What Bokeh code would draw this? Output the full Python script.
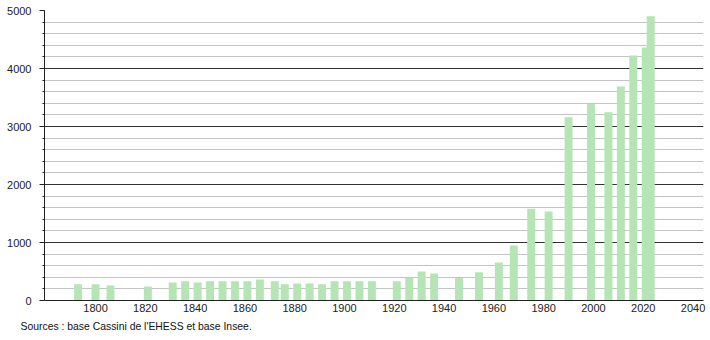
from bokeh.plotting import figure
from bokeh.models import Range1d, FixedTicker, Title, ColumnDataSource
from bokeh.embed import file_html
from bokeh.resources import INLINE

years = [1793, 1800, 1806, 1821, 1831, 1836, 1841, 1846, 1851, 1856, 1861, 1866,
         1872, 1876, 1881, 1886, 1891, 1896, 1901, 1906, 1911, 1921, 1926, 1931,
         1936, 1946, 1954, 1962, 1968, 1975, 1982, 1990, 1999, 2006, 2011, 2016,
         2021, 2023]
population = [280, 280, 260, 240, 310, 330, 310, 330, 330, 330, 330, 360,
              330, 280, 295, 295, 280, 330, 330, 330, 330, 330, 390, 500,
              465, 390, 485, 655, 950, 1580, 1535, 3160, 3390, 3245, 3690, 4225,
              4360, 4900]
x_ticks = [1800, 1820, 1840, 1860, 1880, 1900, 1920, 1940, 1960, 1980, 2000, 2020, 2040]
y_ticks = [0, 1000, 2000, 3000, 4000, 5000]
source_text = "Sources : base Cassini de l'EHESS et base Insee."

src = ColumnDataSource(dict(year=years, pop=population))

p = figure(width=710, height=340, output_backend="svg", toolbar_location=None,
           x_range=Range1d(1779.5, 2044.2), y_range=Range1d(0, 5000),
           min_border_left=44, min_border_right=7, min_border_top=10,
           min_border_bottom=40)

p.vbar(x="year", top="pop", width=3.2, source=src, fill_color="#b5e5b5",
       line_color=None)

p.outline_line_color = None
p.background_fill_color = "white"
p.border_fill_color = "white"

# grids
p.xgrid.visible = False
p.ygrid.ticker = FixedTicker(ticks=y_ticks, minor_ticks=list(range(0, 5001, 200)))
p.ygrid.grid_line_color = "#333333"
p.ygrid.grid_line_width = 1
p.ygrid.minor_grid_line_color = "#c4c4c4"
p.ygrid.minor_grid_line_width = 1
p.ygrid.level = "underlay"

# y axis
p.yaxis.ticker = FixedTicker(ticks=y_ticks, minor_ticks=list(range(0, 5001, 200)))
p.yaxis.axis_line_color = "#222222"
p.yaxis.major_tick_line_color = "#222222"
p.yaxis.minor_tick_line_color = "#222222"
p.yaxis.major_tick_out = 5
p.yaxis.major_tick_in = 0
p.yaxis.minor_tick_out = 2
p.yaxis.minor_tick_in = 0
p.yaxis.major_label_standoff = 8
p.yaxis.major_label_text_font = "Liberation Sans"
p.yaxis.major_label_text_font_size = "11px"
p.yaxis.major_label_text_color = "#222222"

# x axis
p.xaxis.ticker = FixedTicker(ticks=x_ticks)
p.xaxis.axis_line_color = "#222222"
p.xaxis.major_tick_line_color = None
p.xaxis.minor_tick_line_color = None
p.xaxis.major_tick_out = 0
p.xaxis.major_tick_in = 0
p.xaxis.major_label_standoff = 3
p.xaxis.major_label_text_font = "Liberation Sans"
p.xaxis.major_label_text_font_size = "11px"
p.xaxis.major_label_text_color = "#222222"

note = Title(text=source_text, align="left", offset=-24, standoff=8,
             text_font="Liberation Sans", text_font_size="10.4px",
             text_font_style="normal", text_color="#111111")
p.add_layout(note, "below")

open("out.html", "w").write(file_html(p, INLINE))
